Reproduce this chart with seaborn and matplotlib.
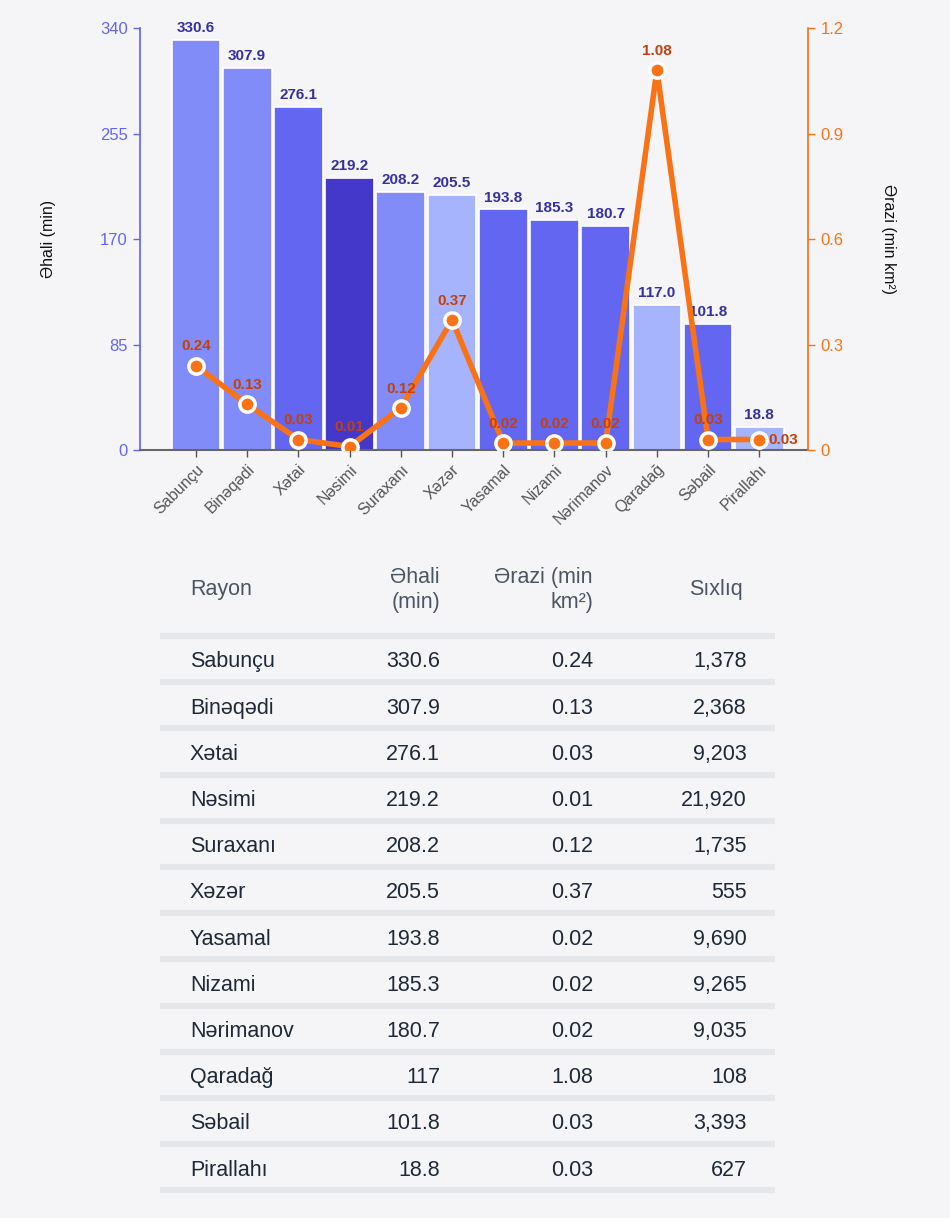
import numpy as np
import pandas as pd
import matplotlib
matplotlib.use("Agg")
import matplotlib.pyplot as plt
import seaborn as sns

# ==============================
# Data
# ==============================
rayon = ["Sabunçu", "Binəqədi", "Xətai", "Nəsimi", "Suraxanı", "Xəzər", "Yasamal",
         "Nizami", "Nərimanov", "Qaradağ", "Səbail", "Pirallahı"]
ehali = [330.6, 307.9, 276.1, 219.2, 208.2, 205.5, 193.8, 185.3, 180.7, 117.0, 101.8, 18.8]
erazi = [0.24, 0.13, 0.03, 0.01, 0.12, 0.37, 0.02, 0.02, 0.02, 1.08, 0.03, 0.03]
sixliq = ["1,378", "2,368", "9,203", "21,920", "1,735", "555", "9,690", "9,265",
          "9,035", "108", "3,393", "627"]
ehali_table = ["330.6", "307.9", "276.1", "219.2", "208.2", "205.5", "193.8", "185.3",
               "180.7", "117", "101.8", "18.8"]
bar_colors = ["#818cf8", "#818cf8", "#6366f1", "#4338ca", "#818cf8", "#a5b4fc", "#6366f1",
              "#6366f1", "#6366f1", "#a5b4fc", "#6366f1", "#a5b4fc"]
left_ticks = [0, 85, 170, 255, 340]
right_ticks = [0, 0.3, 0.6, 0.9, 1.2]

bg = "#f5f5f7"
sns.set_theme(style="white")
plt.rcParams["font.family"] = ["Liberation Sans", "DejaVu Sans"]

fig = plt.figure(figsize=(9.5, 12.18), dpi=100, facecolor=bg)

# ==============================
# Chart
# ==============================
ax = fig.add_axes([0.147, 0.6305, 0.704, 0.3465], facecolor=bg)
df = pd.DataFrame({"rayon": rayon, "ehali": ehali})
sns.barplot(data=df, x="rayon", y="ehali", hue="rayon", palette=bar_colors, legend=False,
            width=0.95, edgecolor="white", linewidth=1.2, saturation=1, ax=ax)
for i, v in enumerate(ehali):
    ax.text(i, v + 4, f"{v:.1f}", ha="center", va="bottom", fontsize=11,
            fontweight="bold", color="#3730a3")
ax.set_xlim(-1.1, 11.96)
ax.set_ylim(0, 340)
ax.set_yticks(left_ticks)
ax.tick_params(axis="y", colors="#6366f1", labelsize=12, length=5, width=1)
ax.tick_params(axis="x", colors="#555555", labelsize=11.5, length=5, width=1, bottom=True)
plt.setp(ax.get_xticklabels(), rotation=45, ha="right", rotation_mode="anchor")
ax.set_xlabel("")
ax.set_ylabel("Əhali (min)", fontsize=11.5, color="#111111", labelpad=32)
for s in ["top", "right"]:
    ax.spines[s].set_visible(False)
ax.spines["left"].set_color("#6366f1")
ax.spines["bottom"].set_color("#666666")
ax.spines["bottom"].set_linewidth(1.5)

ax2 = ax.twinx()
ax2.plot(np.arange(len(erazi)), erazi, color="#f97316", lw=4, marker="o", ms=11,
         markerfacecolor="#f97316", markeredgecolor="white", markeredgewidth=2.5, zorder=5)
last = len(erazi) - 1
for i, v in enumerate(erazi):
    if i == last:
        ax2.text(i + 0.17, v, f"{v:.2f}", ha="left", va="center", fontsize=11,
                 fontweight="bold", color="#c2410c", zorder=6)
    else:
        ax2.text(i, v + 0.035, f"{v:.2f}", ha="center", va="bottom", fontsize=11,
                 fontweight="bold", color="#c2410c", zorder=6)
ax2.set_ylim(0, 1.2)
ax2.set_yticks(right_ticks)
ax2.set_yticklabels([f"{t:g}" for t in right_ticks])
ax2.tick_params(axis="y", colors="#f97316", labelsize=12, length=5, width=1)
ax2.set_ylabel("Ərazi (min km²)", fontsize=11.5, color="#111111", rotation=270, labelpad=38)
for s in ["top", "left", "bottom"]:
    ax2.spines[s].set_visible(False)
ax2.spines["right"].set_color("#f97316")

# ==============================
# Table
# ==============================
tx = fig.add_axes([0, 0.0148, 1, 0.5419])
tx.set_xlim(0, 950)
tx.set_ylim(1200, 540)
tx.axis("off")

hc = "#4b5563"
tx.text(190, 590, "Rayon", ha="left", va="center", fontsize=15.5, color=hc)
tx.text(440, 590, "Əhali\n(min)", ha="right", va="center", fontsize=15.5, color=hc,
        multialignment="right", linespacing=1.2)
tx.text(593, 590, "Ərazi (min\nkm²)", ha="right", va="center", fontsize=15.5, color=hc,
        multialignment="right", linespacing=1.2)
tx.text(743, 590, "Sıxlıq", ha="right", va="center", fontsize=15.5, color=hc)

step = 46.2
for i in range(len(rayon) + 1):
    tx.plot([160, 775], [636 + step * i] * 2, color="#e5e7eb", lw=4.5, solid_capstyle="butt")
for i, name in enumerate(rayon):
    y = 662 + step * i
    tx.text(190, y, name, ha="left", va="center", fontsize=15.5, color="#1f2937")
    tx.text(440, y, ehali_table[i], ha="right", va="center", fontsize=15.5, color="#1f2937")
    tx.text(593, y, f"{erazi[i]:.2f}", ha="right", va="center", fontsize=15.5, color="#1f2937")
    tx.text(747, y, sixliq[i], ha="right", va="center", fontsize=15.5, color="#1f2937")

plt.savefig("out.png", dpi=100, facecolor=bg)
plt.close()
